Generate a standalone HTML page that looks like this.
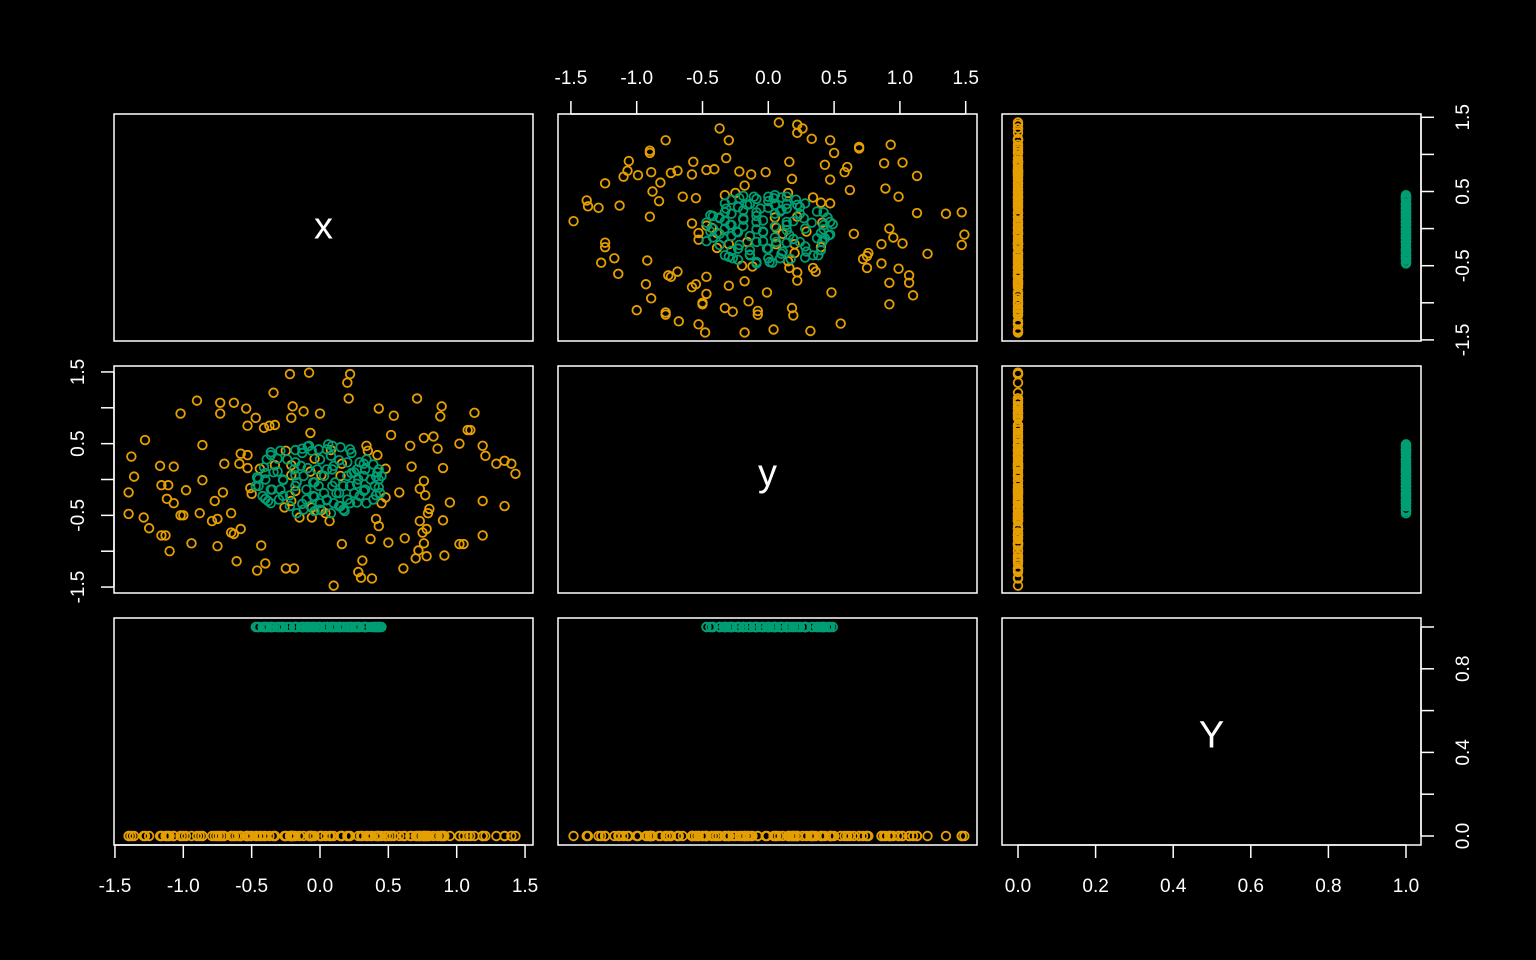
<!DOCTYPE html>
<html><head><meta charset="utf-8"><style>
html,body{margin:0;padding:0;background:#000;}
svg{display:block;}
</style></head><body>
<svg id="chart" width="1536" height="960" viewBox="0 0 1536 960" xmlns="http://www.w3.org/2000/svg">
<rect x="0" y="0" width="1536" height="960" fill="#000"/>
</svg>
<script>
// ---- data (x, y, Y) ----
const orangeX = [-0.22,-0.08,-0.34,-0.90,-0.73,-0.63,-1.02,-0.73,-0.54,-0.47,-0.20,-0.12,-0.21,0.00,-0.53,-0.41,-0.37,-0.33,-0.07,-1.28,-0.86,-1.38,-0.58,-0.53,-0.25,-1.17,-1.07,-0.70,-0.59,-0.53,-0.33,-0.21,-0.04,-1.36,-0.44,-0.07,-0.21,-0.86,-1.40,-1.16,-1.11,-0.98,-0.71,-0.51,-0.50,-0.18,-1.12,-1.07,-0.77,-0.21,-0.26,-0.06,-1.40,-1.29,-1.02,-1.00,-0.88,-0.65,-0.79,-0.75,-0.15,-0.06,-1.25,-1.16,-1.13,-0.65,-0.63,-0.58,-0.94,-0.75,-0.43,-1.10,-0.61,-0.40,-0.46,-0.25,-0.19,
0.22,0.20,0.21,0.71,0.43,0.54,0.89,0.88,1.13,1.08,1.10,0.52,0.76,0.83,0.66,0.86,1.02,1.19,1.21,0.34,0.35,0.42,0.08,0.16,1.29,1.35,1.40,1.43,0.67,0.90,0.48,0.01,0.15,0.76,0.73,0.77,0.58,0.48,0.45,0.95,1.19,1.35,0.01,0.07,0.80,0.79,0.73,0.90,0.41,0.43,0.78,0.75,0.16,0.37,0.50,0.62,0.76,1.19,1.02,1.05,0.72,0.70,0.78,0.91,0.31,0.28,0.30,0.38,0.61,0.10,0.04];
const orangeY = [1.47,1.49,1.21,1.10,1.07,1.07,0.92,0.92,0.99,0.86,1.02,0.95,0.86,0.92,0.75,0.72,0.75,0.76,0.65,0.55,0.48,0.32,0.36,0.34,0.40,0.19,0.18,0.22,0.22,0.16,0.20,0.20,0.29,0.04,0.15,0.11,0.06,-0.01,-0.18,-0.08,-0.08,-0.15,-0.18,-0.12,-0.20,-0.16,-0.27,-0.33,-0.30,-0.30,-0.39,-0.39,-0.48,-0.53,-0.50,-0.50,-0.47,-0.47,-0.58,-0.55,-0.53,-0.53,-0.68,-0.78,-0.78,-0.74,-0.76,-0.69,-0.89,-0.93,-0.92,-1.00,-1.14,-1.17,-1.27,-1.24,-1.24,
1.47,1.35,1.13,1.13,0.99,0.89,1.02,0.88,0.93,0.69,0.69,0.62,0.58,0.60,0.47,0.43,0.50,0.47,0.33,0.47,0.40,0.34,0.41,0.22,0.22,0.26,0.22,0.08,0.18,0.16,0.15,0.06,0.05,-0.02,-0.13,-0.22,-0.18,-0.25,-0.33,-0.32,-0.30,-0.37,-0.43,-0.58,-0.41,-0.47,-0.58,-0.57,-0.55,-0.65,-0.69,-0.74,-0.90,-0.83,-0.88,-0.82,-0.89,-0.78,-0.90,-0.90,-0.99,-1.10,-1.07,-1.06,-1.13,-1.29,-1.37,-1.38,-1.24,-1.48,-0.47];
const greenX = [-0.36,-0.29,-0.18,-0.13,-0.08,-0.01,0.06,0.15,0.22,0.29,0.34,0.39,0.43,-0.39,-0.41,-0.46,-0.47,-0.42,-0.38,-0.30,-0.27,-0.29,-0.19,-0.14,-0.12,-0.17,-0.10,-0.05,-0.01,0.03,0.05,0.10,0.08,0.00,-0.06,0.11,0.17,0.20,0.25,0.28,0.32,0.37,0.40,0.44,0.39,0.34,0.29,0.25,0.20,0.15,0.10,0.05,0.00,-0.05,-0.07,-0.12,-0.17,-0.22,-0.27,-0.35,-0.40,-0.34,-0.24,-0.02,0.12,0.22,0.33,0.43,0.20,0.27,-0.10,0.03,0.08,0.17,0.22,0.33,0.45,0.42,
0.18,0.00,0.14,0.27,0.05,-0.13,-0.36,-0.40,-0.22,-0.04,0.14,0.32,0.43,0.27,0.09,-0.04,-0.18,-0.36,-0.45,-0.45,-0.27,-0.18,-0.31,-0.40,-0.09,0.09,0.23,0.41,0.32,0.14,-0.18,-0.31,-0.36,-0.13,0.05,0.23,-0.09,0.09,0.41,-0.04];
const greenY = [0.38,0.40,0.41,0.43,0.47,0.42,0.49,0.45,0.42,0.24,0.28,0.21,0.14,0.28,0.17,0.03,-0.09,-0.23,-0.30,-0.28,0.00,-0.14,0.14,0.19,0.05,-0.04,-0.14,-0.04,-0.09,0.05,0.14,0.19,0.33,0.28,0.40,-0.04,-0.09,0.05,0.10,0.00,0.05,0.00,-0.09,-0.19,-0.28,-0.33,-0.23,-0.19,-0.28,-0.37,-0.33,-0.28,-0.33,-0.23,-0.37,-0.42,-0.47,-0.37,-0.23,-0.14,0.00,0.10,0.28,0.14,-0.19,-0.09,-0.14,0.00,0.24,0.14,-0.28,-0.19,-0.47,-0.42,-0.33,0.14,0.05,0.10,
-0.44,-0.42,-0.37,-0.32,-0.29,-0.34,-0.33,-0.27,-0.22,-0.24,-0.19,-0.16,-0.11,-0.06,-0.09,-0.04,-0.09,-0.14,-0.09,0.01,-0.01,0.06,0.11,0.09,0.16,0.14,0.09,0.04,0.22,0.27,0.24,0.29,0.34,0.37,0.42,0.37,0.46,0.47,-0.22,-0.44];
const classValues = [0, 1];
const xTicks = [-1.5,-1.0,-0.5,0.0,0.5,1.0,1.5];
const xTickLabels = ["-1.5","-1.0","-0.5","0.0","0.5","1.0","1.5"];
const vTickLabels = ["1.5","0.5","-0.5","-1.5"];
const vTickLabelVals = [1.5,0.5,-0.5,-1.5];
const YTicks = [0,0.2,0.4,0.6,0.8,1.0];
const YTickLabels = ["0.0","0.2","0.4","0.6","0.8","1.0"];
const YVTickVals = [0,0.4,0.8];
const YVTickLabels = ["0.0","0.4","0.8"];

// ---- axis functions ----
const xH = v => 320 + 136.7*v;     // x horizontal (column 1)
const yH = v => 768.3 + 131.6*v;   // y horizontal (column 2)
const YH = v => 1018 + 388*v;      // Y horizontal (column 3)
const xV = v => 228.6 - 74.2*v;    // x vertical (row 1)
const yV = v => 479.5 - 71.7*v;    // y vertical (row 2)
const YV = v => 836 - 209*v;       // Y vertical (row 3)

const svg = document.getElementById('chart');
const NS = 'http://www.w3.org/2000/svg';
const ORANGE = '#E69F00', GREEN = '#009E73';
function mk(tag, attrs){ const e=document.createElementNS(NS,tag); for(const k in attrs) e.setAttribute(k,attrs[k]); svg.appendChild(e); return e; }

const cols = [[114,533],[558,977],[1002,1421]];
const rows = [[114,341],[366,593],[618,845]];
const names = [['panel-x-label','panel-x-vs-y','panel-x-vs-Y'],['panel-y-vs-x','panel-y-label','panel-y-vs-Y'],['panel-Y-vs-x','panel-Y-vs-y','panel-Y-label']];
for(let r=0;r<3;r++) for(let c=0;c<3;c++){
  const p = mk('rect',{x:cols[c][0],y:rows[r][0],width:cols[c][1]-cols[c][0],height:rows[r][1]-rows[r][0],fill:'none',stroke:'#fff','stroke-width':1.5});
  
  
}
function diag(txt, c, r, dy){
  const t = mk('text',{x:(cols[c][0]+cols[c][1])/2,y:(rows[r][0]+rows[r][1])/2+13+dy,fill:'#fff','font-family':'Liberation Sans, sans-serif','font-size':38,'text-anchor':'middle'});
  t.textContent = txt;
  
  
}
diag('x',0,0,-2); diag('y',1,1,-7); diag('Y',2,2,3);

function pt(cx, cy, col){
  const e = mk('circle',{cx:cx,cy:cy,r:4.3,fill:'none',stroke:col,'stroke-width':1.8});
  
  
}
function drawSet(xs, ys, cls, col){
  for(let i=0;i<xs.length;i++){
    const x=xs[i], y=ys[i], Y=cls;
    pt(yH(y), xV(x), col);   // row1 col2
    pt(YH(Y), xV(x), col);   // row1 col3
    pt(xH(x), yV(y), col);   // row2 col1
    pt(YH(Y), yV(y), col);   // row2 col3
    pt(xH(x), YV(Y), col);   // row3 col1
    pt(yH(y), YV(Y), col);   // row3 col2
  }
}
drawSet(orangeX, orangeY, classValues[0], ORANGE);
drawSet(greenX, greenY, classValues[1], GREEN);

function line(x1,y1,x2,y2,name){
  const l = mk('line',{x1:x1,y1:y1,x2:x2,y2:y2,stroke:'#fff','stroke-width':1.5});
  
  
}
function label(txt,x,y,rot,name){
  const t = mk('text',{x:x,y:y,fill:'#fff','font-family':'Liberation Sans, sans-serif','font-size':19,'text-anchor':'middle'});
  if(rot) t.setAttribute('transform','rotate(-90 '+x+' '+y+')');
  t.textContent = txt;
  
  
}
line(xH(xTicks[0]),845,xH(xTicks[xTicks.length-1]),845,'x-axis-bottom-line');
xTicks.forEach((v,i)=>{ line(xH(v),845,xH(v),858,'x-axis-bottom-tick'); label(xTickLabels[i],xH(v),892,false,'x-axis-bottom-label'); });
line(yH(xTicks[0]),114,yH(xTicks[xTicks.length-1]),114,'y-axis-top-line');
xTicks.forEach((v,i)=>{ line(yH(v),101,yH(v),114,'y-axis-top-tick'); label(xTickLabels[i],yH(v),84,false,'y-axis-top-label'); });
line(YH(YTicks[0]),845,YH(YTicks[YTicks.length-1]),845,'Y-axis-bottom-line');
YTicks.forEach((v,i)=>{ line(YH(v),845,YH(v),858,'Y-axis-bottom-tick'); label(YTickLabels[i],YH(v),892,false,'Y-axis-bottom-label'); });
line(1421,xV(1.5),1421,xV(-1.5),'x-axis-right-line');
xTicks.forEach(v=>line(1421,xV(v),1434,xV(v),'x-axis-right-tick'));
vTickLabelVals.forEach((v,i)=>label(vTickLabels[i],1469,xV(v),true,'x-axis-right-label'));
line(114,yV(1.5),114,yV(-1.5),'y-axis-left-line');
xTicks.forEach(v=>line(101,yV(v),114,yV(v),'y-axis-left-tick'));
vTickLabelVals.forEach((v,i)=>label(vTickLabels[i],84,yV(v),true,'y-axis-left-label'));
line(1421,YV(0),1421,YV(1),'Y-axis-right-line');
YTicks.forEach(v=>line(1421,YV(v),1434,YV(v),'Y-axis-right-tick'));
YVTickVals.forEach((v,i)=>label(YVTickLabels[i],1469,YV(v),true,'Y-axis-right-label'));
</script>
</body></html>
